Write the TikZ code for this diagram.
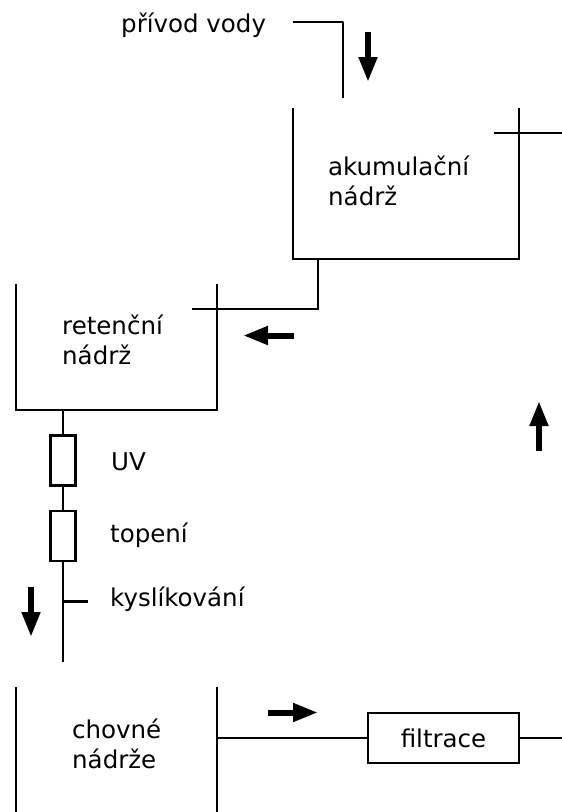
\documentclass[tikz,border=0pt]{standalone}
\usepackage{fontspec}
\setmainfont{DejaVu Sans}
\usetikzlibrary{arrows.meta}
\begin{document}
\begin{tikzpicture}[x=1pt,y=-1pt,
 pipe/.style={line width=2.3pt,line cap=butt},
 flow/.style={line width=6pt,-{Triangle[length=25pt,width=17.5pt]}},
 lbl/.style={inner sep=0pt,anchor=west,font=\fontsize{24.5}{29.5}\selectfont,align=left},
 unit/.style={draw,line width=2.3pt,minimum width=25pt,minimum height=50pt,inner sep=0pt},
 boxf/.style={draw,line width=2.3pt,minimum width=151pt,minimum height=50pt,inner sep=0pt,font=\fontsize{24.5}{29}\selectfont}]
\useasboundingbox (0,0) rectangle (562,812);
% labels
\node[lbl] (t1) at (121,25) {přívod vody};
\node[lbl] (t2) at (328,181) {akumulační\\nádrž};
\node[lbl] (t3) at (62,340) {retenční\\nádrž};
\node[lbl] (t4) at (111,462) {UV};
\node[lbl] (t5) at (110,535) {topení};
\node[lbl] (t6) at (110,599) {kyslíkování};
\node[lbl] (t7) at (72,744) {chovné\\nádrže};
% inlet
\coordinate (a1) at (293,22); \coordinate (a2) at (343,22); \coordinate (a3) at (343,98);
\draw[pipe,line join=round] (a1) -- (a2) -- (a3);
% tanks
\draw[pipe] (293,108) -- (293,259) -- (519,259) -- (519,108);
\draw[pipe] (494,133) -- (562,133);
\draw[pipe] (16,284) -- (16,410) -- (217,410) -- (217,284);
\draw[pipe] (318,259) -- (318,309) -- (192,309);
% treatment line
\node[unit] (uv) at (63,460.5) {};
\node[unit] (top) at (63,536) {};
\coordinate (rb) at (63,410); \coordinate (end) at (63,662); \coordinate (ox) at (88,601.5);
\draw[pipe] (rb) -- (uv);
\draw[pipe] (uv) -- (top);
\draw[pipe] (top) -- (end);
\draw[pipe] (63,601.5) -- (ox);
% bottom
\draw[pipe] (16,687) -- (16,812);
\draw[pipe] (217,687) -- (217,812);
\node[boxf] (f) at (443.5,738) {filtrace};
\coordinate (ft) at (217,738); \coordinate (fe) at (562,738);
\draw[pipe] (ft) -- (f);
\draw[pipe] (f) -- (fe);
% arrows
\draw[flow] (368,32) -- (368,82);
\draw[flow] (294,335.5) -- (243,335.5);
\draw[flow] (539,451) -- (539,401);
\draw[flow] (31,587) -- (31,637);
\draw[flow] (268,712.5) -- (318,712.5);
\end{tikzpicture}
\end{document}
